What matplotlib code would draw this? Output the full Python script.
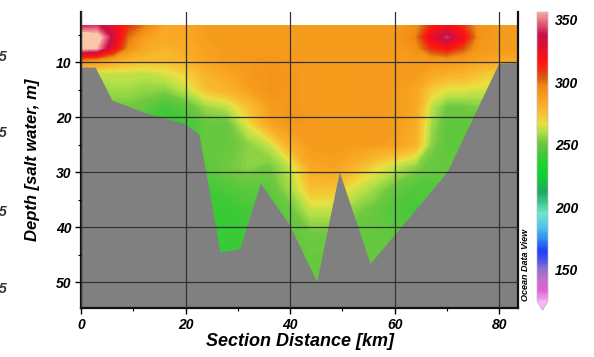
import numpy as np
import matplotlib
matplotlib.use('Agg')
import matplotlib.pyplot as plt
from matplotlib.colors import LinearSegmentedColormap, Normalize
from matplotlib.cm import ScalarMappable

plt.rcParams['font.family'] = ['Liberation Sans', 'DejaVu Sans']

# section grid (km along section, depth in m)
section_km = [0, 3, 6, 9, 12, 16, 20, 24, 28, 32, 36, 40, 44, 48, 52, 56, 60, 64, 67, 70, 73, 76, 80, 84]
depth_m = [3.4, 5.5, 7.5, 9.5, 12, 15, 18, 21, 25, 29, 33, 37, 41, 45, 51]

# values, one row per depth
field = [
    [340, 342, 325, 310, 298, 285, 285, 288, 289, 289, 289, 289, 289, 289, 289, 289, 290, 293, 312, 322, 310, 292, 289, 289],
    [366, 364, 335, 300, 288, 283, 285, 288, 289, 289, 289, 289, 289, 289, 289, 289, 290, 297, 325, 342, 322, 293, 289, 289],
    [360, 356, 325, 294, 284, 280, 283, 287, 289, 289, 289, 289, 289, 289, 289, 289, 289, 293, 310, 318, 305, 291, 289, 289],
    [300, 296, 287, 280, 278, 277, 280, 286, 289, 290, 291, 290, 289, 289, 289, 289, 289, 289, 290, 291, 289, 287, 285, 285],
    [262, 262, 263, 263, 262, 265, 270, 280, 285, 290, 292, 291, 289, 289, 289, 290, 290, 289, 285, 282, 280, 275, 270, 270],
    [255, 255, 258, 258, 256, 255, 262, 275, 280, 287, 292, 291, 289, 289, 289, 290, 289, 285, 272, 266, 266, 264, 264, 264],
    [250, 250, 252, 252, 250, 242, 248, 258, 262, 275, 288, 291, 289, 289, 289, 290, 289, 285, 262, 252, 252, 254, 254, 254],
    [245, 245, 245, 245, 245, 240, 242, 250, 250, 268, 286, 291, 290, 289, 289, 290, 289, 283, 258, 248, 248, 250, 250, 250],
    [245, 245, 245, 245, 245, 242, 243, 250, 250, 255, 262, 282, 289, 289, 289, 289, 287, 280, 255, 248, 248, 250, 250, 250],
    [243, 243, 243, 243, 243, 243, 243, 248, 252, 255, 252, 262, 285, 287, 280, 270, 262, 255, 250, 250, 250, 250, 250, 250],
    [240, 240, 240, 240, 240, 240, 240, 242, 245, 248, 248, 258, 275, 275, 265, 258, 250, 245, 245, 248, 250, 250, 250, 250],
    [240, 240, 240, 240, 240, 240, 240, 240, 240, 243, 245, 250, 262, 262, 255, 250, 245, 243, 245, 248, 250, 250, 250, 250],
    [240, 240, 240, 240, 240, 240, 240, 240, 240, 242, 245, 248, 252, 252, 250, 250, 248, 248, 248, 248, 250, 250, 250, 250],
    [240, 240, 240, 240, 240, 240, 240, 240, 240, 242, 245, 248, 250, 250, 250, 250, 248, 248, 248, 248, 250, 250, 250, 250],
    [240, 240, 240, 240, 240, 240, 240, 240, 240, 242, 245, 248, 250, 250, 250, 250, 248, 248, 248, 248, 250, 250, 250, 250],
]

# bottom topography
bottom_km = [0, 0.4, 2.7, 5.9, 12.6, 19.6, 22.5, 23.1, 26.6, 30.4, 34.3, 39.7, 45.1, 49.4, 55.3, 70.0, 79.9, 84]
bottom_depth = [11.0, 10.9, 10.9, 16.9, 19.3, 21.1, 23.0, 26.0, 44.5, 43.9, 32.0, 39.3, 49.9, 29.9, 46.6, 30.0, 10.2, 10.1]

cbar_ticks = [150, 200, 250, 300, 350]
vmin, vmax = 125, 356

# ODV-like palette
stops = [
    (125, '#f0a8f0'), (133, '#e060d8'), (142, '#c070c8'), (150, '#9070d0'),
    (158, '#4050f0'), (165, '#2040f8'), (175, '#3090f0'), (185, '#50c8e8'),
    (195, '#70e8c8'), (203, '#40c890'), (212, '#20a860'), (222, '#10c840'),
    (232, '#10d828'), (242, '#40c838'), (252, '#70c840'), (260, '#b0e048'),
    (267, '#e8e040'), (275, '#f8c030'), (286, '#f8a422'), (297, '#f08810'),
    (303, '#d86010'), (310, '#f03010'), (318, '#ff1010'), (328, '#e01030'),
    (338, '#c81048'), (346, '#e05070'), (356, '#f8a8a0'),
]
cmap = LinearSegmentedColormap.from_list(
    'odv', [((v - vmin) / (vmax - vmin), c) for v, c in stops])
cmap.set_under('#f4b8f4')
cmap.set_over('#f8c8a8')
norm = Normalize(vmin, vmax)

fig = plt.figure(figsize=(5.94, 3.57), dpi=100)
ax = fig.add_axes([81 / 594, 1 - 308 / 357, 437 / 594, 296 / 357])

X, Y = np.meshgrid(section_km, depth_m)
levels = np.linspace(vmin, vmax, 300)
ax.contourf(X, Y, np.array(field), levels=levels, cmap=cmap, norm=norm, extend='both', zorder=1)
ax.fill_between(bottom_km, bottom_depth, 60, color='#808080', lw=0, zorder=1.5)

ax.set_xlim(0, 83.6)
ax.set_ylim(54.7, 0.9)
ax.set_xticks([0, 20, 40, 60, 80])
ax.set_xticks([10, 30, 50, 70], minor=True)
ax.set_yticks([10, 20, 30, 40, 50])
ax.set_yticks([5, 15, 25, 35, 45], minor=True)
ax.grid(True, which='major', color='#333333', lw=0.9)
ax.set_axisbelow(False)
ax.spines['top'].set_visible(False)
for s in ['left', 'bottom', 'right']:
    ax.spines[s].set_linewidth(1.6)
    ax.spines[s].set_color('#111111')
ax.tick_params(which='major', length=4, width=1, pad=3)
ax.tick_params(which='minor', length=2.5, width=0.8)
for lab in ax.get_xticklabels() + ax.get_yticklabels():
    lab.set_fontsize(10)
    lab.set_fontweight('bold')
    lab.set_fontstyle('italic')
ax.set_xlabel('Section Distance [km]', fontsize=13, fontweight='bold', fontstyle='italic', labelpad=1)
ax.set_ylabel('Depth [salt water, m]', fontsize=12, fontweight='bold', fontstyle='italic', labelpad=11)

# colourbar
cax = fig.add_axes([537 / 594, 1 - 310 / 357, 11 / 594, 298 / 357])
cb = fig.colorbar(ScalarMappable(norm=norm, cmap=cmap), cax=cax, extend='min', extendfrac=0.031)
cb.set_ticks(cbar_ticks)
cb.outline.set_linewidth(0.5)
cb.outline.set_edgecolor('#c8b8c8')
cax.tick_params(length=0, pad=5)
for lab in cax.get_yticklabels():
    lab.set_fontsize(10)
    lab.set_fontweight('bold')
    lab.set_fontstyle('italic')

fig.text(525 / 594, 1 - 265 / 357, 'Ocean Data View', rotation=90, ha='center', va='center',
         fontsize=6.5, fontweight='bold', fontstyle='italic')

# clipped labels of the neighbouring panel
for yp in [57, 133, 212, 289]:
    fig.text(7 / 594, 1 - yp / 357, '5', ha='right', va='center', fontsize=10,
             fontweight='bold', fontstyle='italic', color='#333333')

fig.savefig('out.png', dpi=100)
